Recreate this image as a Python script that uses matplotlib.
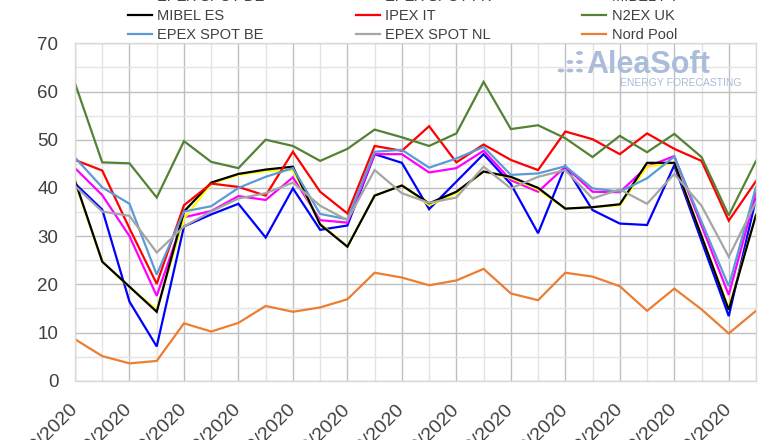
import matplotlib
matplotlib.use("Agg")
import matplotlib.pyplot as plt
from matplotlib.patches import Circle
import numpy as np
import pandas as pd

plt.rcParams['font.family'] = ['Liberation Sans', 'DejaVu Sans']

dates = pd.date_range("2020-10-01", periods=26, freq="D")
date_labels = [d.strftime("%d/%m/%Y") for d in dates]

epex_de = [40.9, 35.5, 16.4, 7.1, 32.0, 34.5, 36.7, 29.7, 39.9, 31.3, 32.2, 47.0, 45.2,
           35.6, 41.3, 47.0, 40.8, 30.6, 44.5, 35.4, 32.6, 32.3, 44.7, 29.0, 13.4, 37.8]
epex_fr = [44.1, 38.5, 30.0, 17.6, 33.9, 35.2, 38.3, 37.5, 42.2, 33.3, 32.8, 47.0, 47.0,
           43.2, 44.1, 47.7, 41.6, 39.2, 44.4, 39.2, 39.1, 44.4, 46.6, 32.2, 17.8, 38.9]
mibel_pt = [41.2, 24.7, 19.4, 14.7, 33.6, 40.9, 42.7, 43.5, 43.7, 32.6, 27.8, 38.4, 40.5,
            36.4, 38.9, 43.4, 42.1, 39.7, 35.7, 36.0, 36.4, 44.4, 45.2, 30.1, 15.0, 34.4]
mibel_es = [41.5, 24.7, 19.5, 14.3, 35.1, 41.1, 42.9, 43.8, 44.4, 32.4, 27.8, 38.4, 40.5,
            36.8, 39.2, 43.4, 42.3, 40.0, 35.7, 36.0, 36.6, 45.2, 45.2, 30.0, 14.7, 34.4]
ipex_it = [45.8, 43.6, 31.6, 20.1, 36.4, 40.9, 40.2, 38.4, 47.5, 39.2, 34.7, 48.7, 47.7,
           52.8, 45.3, 49.0, 45.8, 43.7, 51.7, 50.1, 47.0, 51.3, 48.1, 45.6, 33.2, 41.4]
n2ex_uk = [61.7, 45.3, 45.1, 38.0, 49.7, 45.4, 44.1, 50.0, 48.7, 45.6, 48.1, 52.1, 50.5,
           48.7, 51.3, 62.0, 52.2, 53.0, 50.3, 46.4, 50.8, 47.4, 51.2, 46.4, 34.3, 45.6]
epex_be = [46.3, 40.1, 36.7, 22.0, 35.1, 36.2, 40.0, 42.3, 44.1, 34.6, 33.5, 47.5, 47.9,
           44.2, 46.1, 48.5, 42.7, 43.0, 44.5, 39.9, 39.2, 42.0, 46.5, 33.0, 19.6, 40.2]
epex_nl = [40.4, 35.1, 34.2, 26.6, 32.0, 35.1, 37.8, 38.9, 41.1, 36.3, 33.3, 43.7, 38.9,
           36.9, 38.0, 44.4, 39.9, 42.3, 43.7, 37.8, 39.7, 36.7, 42.9, 36.3, 25.7, 37.1]
nord_pool = [8.6, 5.1, 3.6, 4.1, 11.9, 10.2, 12.0, 15.5, 14.3, 15.2, 16.9, 22.4, 21.4,
             19.8, 20.8, 23.2, 18.1, 16.7, 22.4, 21.6, 19.6, 14.5, 19.1, 14.8, 9.8, 14.5]

series = [
    ("EPEX SPOT DE", epex_de, "#0000ff"),
    ("EPEX SPOT FR", epex_fr, "#ff00ff"),
    ("MIBEL PT", mibel_pt, "#ffff00"),
    ("MIBEL ES", mibel_es, "#000000"),
    ("IPEX IT", ipex_it, "#ff0000"),
    ("N2EX UK", n2ex_uk, "#548235"),
    ("EPEX SPOT BE", epex_be, "#5b9bd5"),
    ("EPEX SPOT NL", epex_nl, "#a5a5a5"),
    ("Nord Pool", nord_pool, "#ed7d31"),
]

fig = plt.figure(figsize=(7.8, 4.4), dpi=100)
ax = fig.add_axes([75/780, 59.3/440, 681/780, 337.4/440])

x = np.arange(len(dates))
handles = {}
for name, vals, col in series:
    (h,) = ax.plot(x, vals, color=col, lw=1.6, label=name, solid_joinstyle='miter')
    handles[name] = h

ax.set_xlim(0, len(dates) - 1)
ax.set_ylim(0, 70)
ax.set_yticks(np.arange(0, 71, 10))
ax.set_yticks(np.arange(5, 70, 10), minor=True)
ax.set_xticks(x[::2])
ax.set_xticks(x[1::2], minor=True)
ax.set_xticklabels(date_labels[::2], rotation=45, ha='right', va='center',
                   rotation_mode='anchor')
ax.grid(which='major', color='#bfbfbf', lw=1.0)
ax.grid(which='minor', color='#e3e3e3', lw=1.0)
ax.set_axisbelow(True)
for s in ax.spines.values():
    s.set_color('#d9d9d9')
    s.set_linewidth(1.0)
ax.tick_params(axis='y', which='both', length=0, pad=12, labelsize=13.5, labelcolor='#404040')
ax.tick_params(axis='x', which='both', length=0, pad=19, labelsize=14, labelcolor='#404040')

order = ["EPEX SPOT DE", "MIBEL ES", "EPEX SPOT BE",
         "EPEX SPOT FR", "IPEX IT", "EPEX SPOT NL",
         "MIBEL PT", "N2EX UK", "Nord Pool"]
leg = fig.legend([handles[n] for n in order], order, ncol=3, loc='upper left',
                 bbox_to_anchor=(128/780, 1 + 9.6/440), frameon=False,
                 prop={'size': 10.5},
                 handlelength=1.65, handletextpad=0.35, columnspacing=6.25,
                 labelspacing=0.34, borderaxespad=0, borderpad=0)
for t in leg.get_texts():
    t.set_color('#404040')

# watermark logo
wm = '#a9bcd9'
fig.text(586/780, 1 - 73/440, "AleaSoft", fontsize=22, fontweight='bold', color=wm,
         ha='left', va='baseline')
fig.text(742/780, 1 - 85.5/440, "ENERGY FORECASTING", fontsize=7.5, color=wm,
         ha='right', va='baseline')
for cx, cy in [(579.5, 53), (579.5, 62), (579.5, 70.5), (570, 62), (570, 70.5), (561, 70.5)]:
    fig.add_artist(Circle((cx/780, 1 - cy/440), 3.4/780, transform=fig.transFigure,
                          color=wm, lw=0))

fig.savefig("out.png", dpi=100)
